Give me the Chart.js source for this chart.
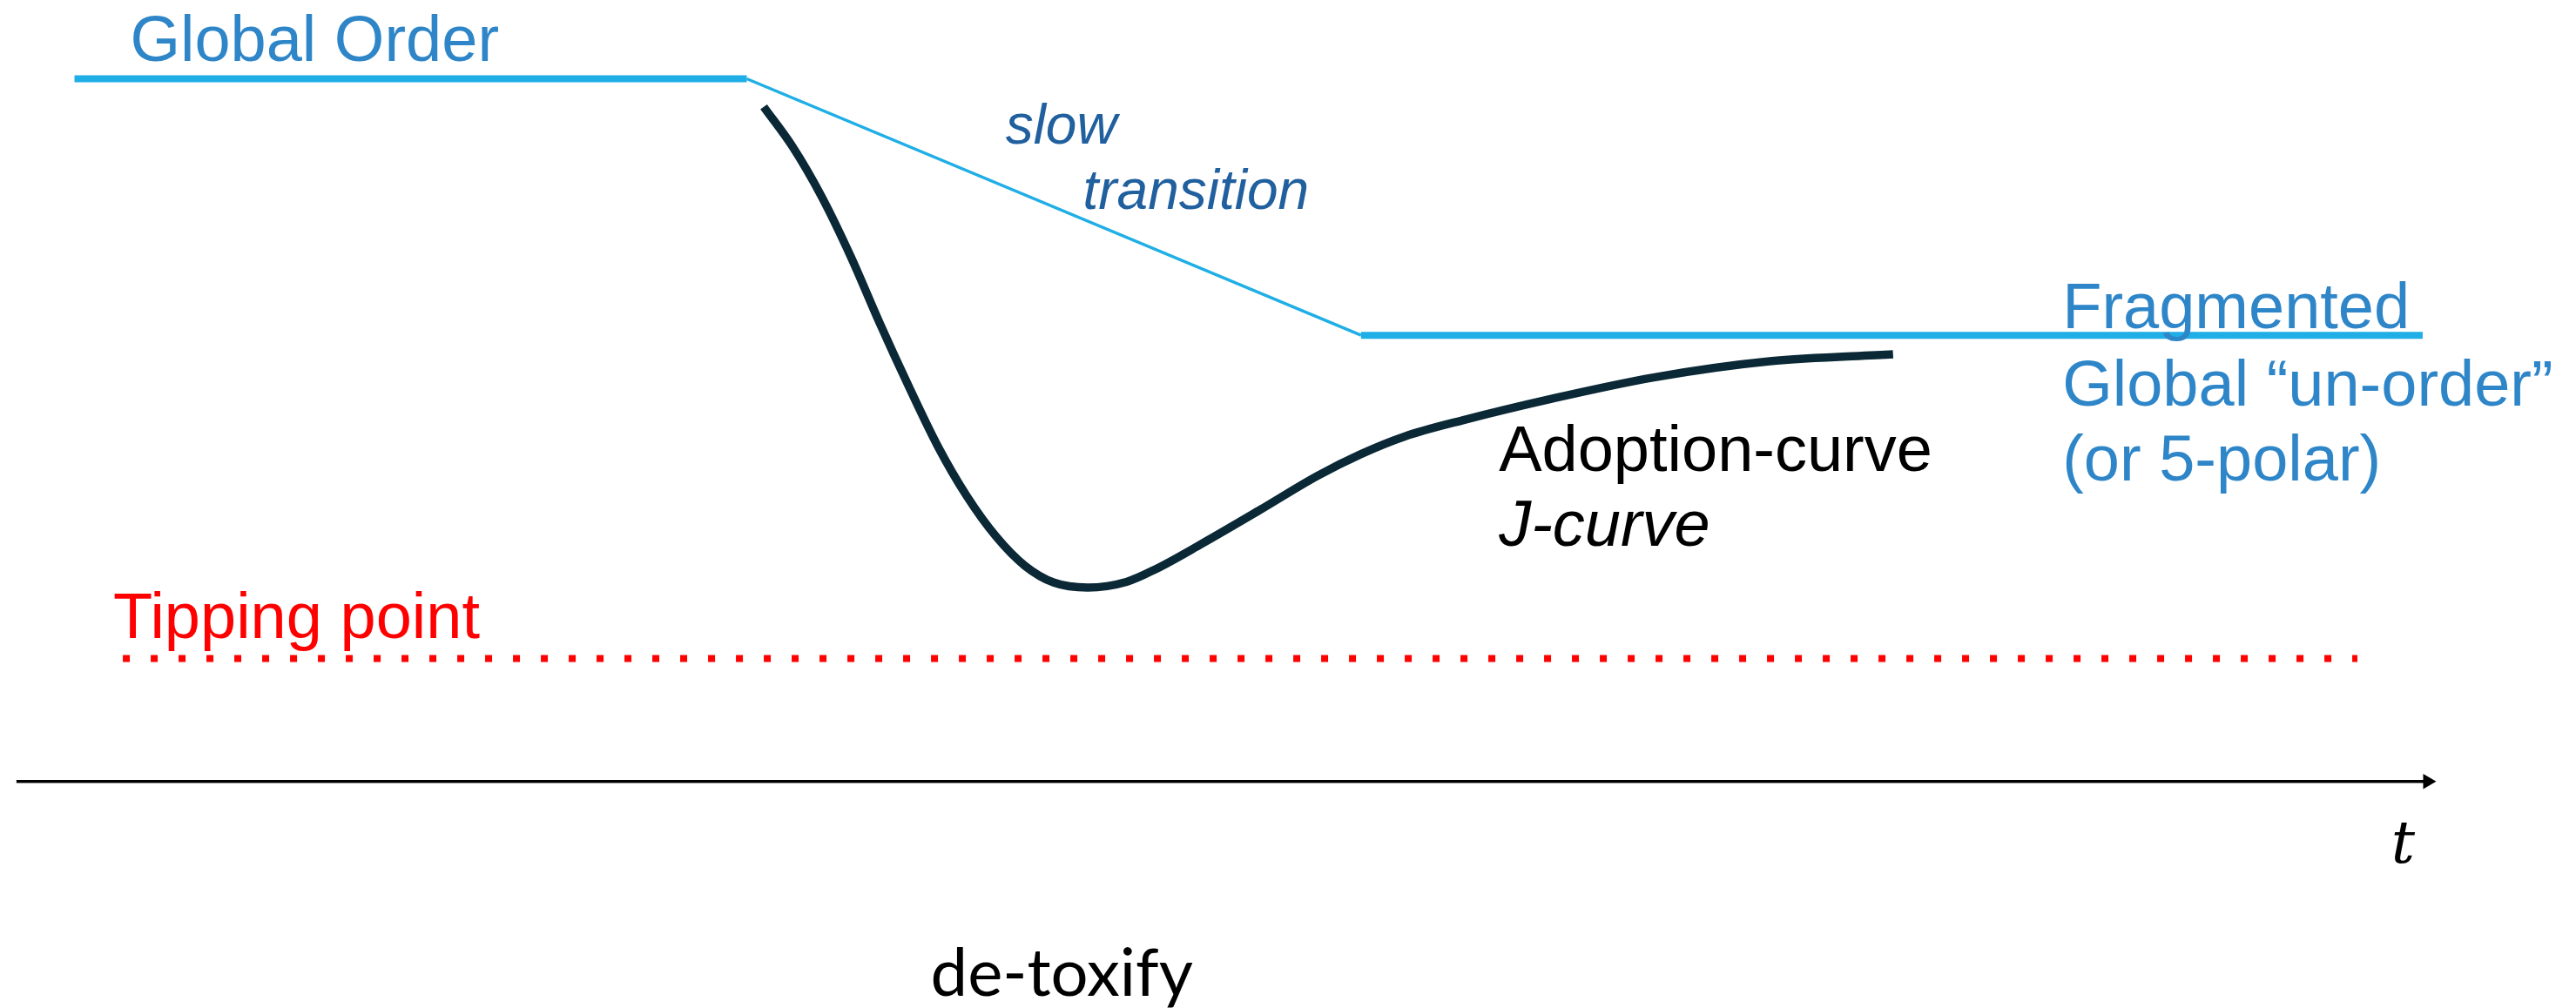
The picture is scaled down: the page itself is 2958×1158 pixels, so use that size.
<!DOCTYPE html>
<html>
<head>
<meta charset="utf-8">
<script src="https://cdn.jsdelivr.net/npm/chart.js@4.4.1/dist/chart.umd.min.js"></script>
<style>
  html, body { margin: 0; padding: 0; background: #ffffff; }
  #wrap { width: 2958px; height: 1158px; }
</style>
</head>
<body>
<div id="wrap"><canvas id="grafico" width="2958" height="1158"></canvas></div>
<script>
// time axis runs 0..100, level: axis = 0, global order = 100
const ordemGlobalT = [2.4, 30.2];
const ordemGlobalNivel = [100, 100];

const transicaoT = [30.2, 55.6];
const transicaoNivel = [100, 63.5];

const fragmentadoT = [55.6, 99.5];
const fragmentadoNivel = [63.5, 63.5];

const curvaJT = [30.9, 32.1, 33.3, 34.5, 35.7, 36.9, 38.1, 39.3, 40.5, 41.7, 42.9, 44.3,
  45.9, 47.1, 49.0, 51.4, 53.8, 55.6, 57.4, 59.8, 63.4, 67.7, 72.5, 77.6];
const curvaJNivel = [96.0, 90.3, 83.2, 74.7, 65.2, 56.2, 47.7, 40.6, 34.9, 30.7, 28.3, 27.6,
  28.4, 30.2, 33.8, 38.6, 43.5, 46.6, 49.1, 51.4, 54.4, 57.5, 59.8, 60.8];

const pontoVirada = 17.5;
const pontoViradaT = [4.4, 96.8];

const eixoT = [0, 99.7];

// text notes: [text, t, level, style]
const rotulos = [
  ['Global Order', 4.7, 102.6, 'azul'],
  ['slow', 40.9, 90.8, 'italico'],
  ['transition', 44.1, 81.5, 'italico'],
  ['Adoption-curve', 61.3, 44.2, 'preto'],
  ['J-curve', 61.3, 33.6, 'pretoItalico'],
  ['Fragmented', 84.6, 64.5, 'azul'],
  ['Global \u201Cun-order\u201D', 84.6, 53.5, 'azul'],
  ['(or 5-polar)', 84.6, 42.8, 'azul'],
  ['Tipping point', 4.0, 20.4, 'vermelho'],
  ['t', 98.2, -11.6, 'tempo'],
  ['de-toxify', 37.8, -30.5, 'calibri']
];

const estilos = {
  azul: { font: '74px "Liberation Sans", Arial, sans-serif', color: '#2E86C8' },
  italico: { font: 'italic 64px "Liberation Sans", Arial, sans-serif', color: '#21609E' },
  preto: { font: '74px "Liberation Sans", Arial, sans-serif', color: '#000000' },
  pretoItalico: { font: 'italic 74px "Liberation Sans", Arial, sans-serif', color: '#000000' },
  vermelho: { font: '74px "Liberation Sans", Arial, sans-serif', color: '#FF0000' },
  tempo: { font: 'italic 68px "DejaVu Serif", "Liberation Serif", serif', color: '#000000' },
  calibri: { font: '76px Lato, "Open Sans", sans-serif', color: '#000000' }
};

const pares = (xs, ys) => xs.map((x, i) => ({ x: x, y: ys[i] }));

const rotulosPlugin = {
  id: 'rotulos',
  afterDatasetsDraw(chart) {
    const ctx = chart.ctx;
    const sx = chart.scales.x, sy = chart.scales.y;
    ctx.save();
    ctx.textBaseline = 'alphabetic';
    ctx.textAlign = 'left';
    rotulos.forEach(([texto, t, nivel, estilo]) => {
      ctx.font = estilos[estilo].font;
      ctx.fillStyle = estilos[estilo].color;
      ctx.fillText(texto, sx.getPixelForValue(t), sy.getPixelForValue(nivel));
    });
    ctx.restore();
  }
};

const ctx = document.getElementById('grafico').getContext('2d');

new Chart(ctx, {
  type: 'line',
  data: {
    datasets: [
      {
        label: 'Tipping point',
        data: pares(pontoViradaT, [pontoVirada, pontoVirada]),
        borderColor: '#FF0000',
        borderWidth: 8,
        borderDash: [8, 24],
        borderCapStyle: 'butt',
        pointRadius: 0
      },
      {
        label: 'Global Order',
        data: pares(ordemGlobalT, ordemGlobalNivel),
        borderColor: '#1FAEE5',
        borderWidth: 8,
        borderCapStyle: 'butt',
        pointRadius: 0
      },
      {
        label: 'slow transition',
        data: pares(transicaoT, transicaoNivel),
        borderColor: '#1FAEE5',
        borderWidth: 3.5,
        pointRadius: 0
      },
      {
        label: 'Fragmented',
        data: pares(fragmentadoT, fragmentadoNivel),
        borderColor: '#1FAEE5',
        borderWidth: 8,
        borderCapStyle: 'butt',
        pointRadius: 0
      },
      {
        label: 'J-curve',
        data: pares(curvaJT, curvaJNivel),
        borderColor: '#0A2835',
        borderWidth: 9.5,
        borderCapStyle: 'butt',
        borderJoinStyle: 'round',
        cubicInterpolationMode: 'monotone',
        pointRadius: 0
      },
      {
        label: 't',
        data: pares(eixoT, [0, 0]),
        borderColor: '#000000',
        borderWidth: 3.5,
        backgroundColor: '#000000',
        pointStyle: 'triangle',
        rotation: 90,
        pointRadius: [0, 10],
        pointBorderWidth: 0
      }
    ]
  },
  options: {
    responsive: false,
    animation: false,
    devicePixelRatio: 1,
    layout: { padding: 0, autoPadding: false },
    plugins: {
      legend: { display: false },
      tooltip: { enabled: false }
    },
    scales: {
      x: { type: 'linear', display: false, min: -0.68, max: 105.84 },
      y: { type: 'linear', display: false, min: -32.24, max: 111.21 }
    }
  },
  plugins: [rotulosPlugin]
});
</script>
</body>
</html>
